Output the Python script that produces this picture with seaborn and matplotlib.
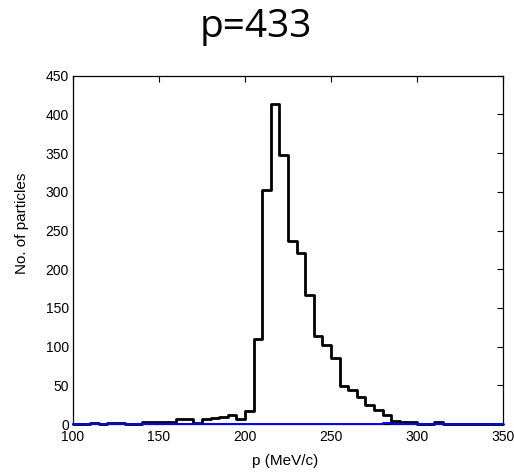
import numpy as np
import matplotlib
matplotlib.use("Agg")
import matplotlib.pyplot as plt
import seaborn as sns

# ---- data ----
bin_edges = list(range(100, 355, 5))
# counts per 5 MeV/c bin, 100-105 ... 345-350
counts_all = [0, 0, 1, 0, 1, 1, 0, 0, 2, 2,
              3, 3, 6, 7, 1, 7, 8, 9, 12, 7,
              17, 110, 302, 414, 348, 236, 221, 167, 114, 102,
              85, 49, 44, 35, 25, 18, 11, 4, 3, 3,
              0, 0, 3, 0, 0, 0, 0, 0, 0, 0]
counts_sel = [0] * 36 + [1] + [0] * 13

title_text = "p=433"
x_label = "p (MeV/c)"
y_label = "No. of particles"
x_ticks = [100, 150, 200, 250, 300, 350]
y_ticks = [0, 50, 100, 150, 200, 250, 300, 350, 400, 450]

# ---- style ----
sns.set_style("white")
plt.rcParams["font.family"] = ["Liberation Sans", "DejaVu Sans"]
plt.rcParams["xtick.direction"] = "in"
plt.rcParams["ytick.direction"] = "in"

centers = [e + 2.5 for e in bin_edges[:-1]]

fig = plt.figure(figsize=(5.14, 4.72), dpi=100)
ax = fig.add_axes([73 / 514, 48 / 472, 430 / 514, 348.3 / 472])

sns.histplot(x=centers, weights=counts_all, bins=bin_edges, element="step",
             fill=False, color="black", linewidth=2.0, ax=ax)
sns.histplot(x=centers, weights=counts_sel, bins=bin_edges, element="step",
             fill=False, color="#0000ff", linewidth=1.4, ax=ax)
for ln in ax.lines:
    ln.set_clip_on(False)
ax.lines[1].set_zorder(3)

ax.set_xlim(100, 350)
ax.set_ylim(0, 450)
ax.set_xticks(x_ticks)
ax.set_yticks(y_ticks)
tick_font = ["Liberation Sans Narrow", "Liberation Sans", "DejaVu Sans"]
ax.set_xticklabels([str(t) for t in x_ticks], family=tick_font, fontsize=10)
ax.set_yticklabels([str(t) for t in y_ticks], family=tick_font, fontsize=10)
ax.tick_params(axis="both", which="both", top=True, right=True, length=4,
               width=0.8, color="black", labelcolor="black")
ax.tick_params(axis="x", pad=4)
ax.tick_params(axis="y", pad=3)

for side in ["left", "right", "top", "bottom"]:
    ax.spines[side].set_visible(True)
    ax.spines[side].set_color("black")
    ax.spines[side].set_linewidth(0.9)

ax.set_xlabel(x_label, fontsize=11, color="black")
ax.set_ylabel(y_label, fontsize=11, color="black")
ax.xaxis.set_label_coords(0.493, -0.085)
ax.yaxis.set_label_coords(-0.103, 0.577)

fig.text(256 / 514, 1 - 27 / 472, title_text, ha="center", va="center",
         family=["Open Sans", "DejaVu Sans"], fontsize=28, color="black")

fig.savefig("out.png", dpi=100, facecolor="white")
